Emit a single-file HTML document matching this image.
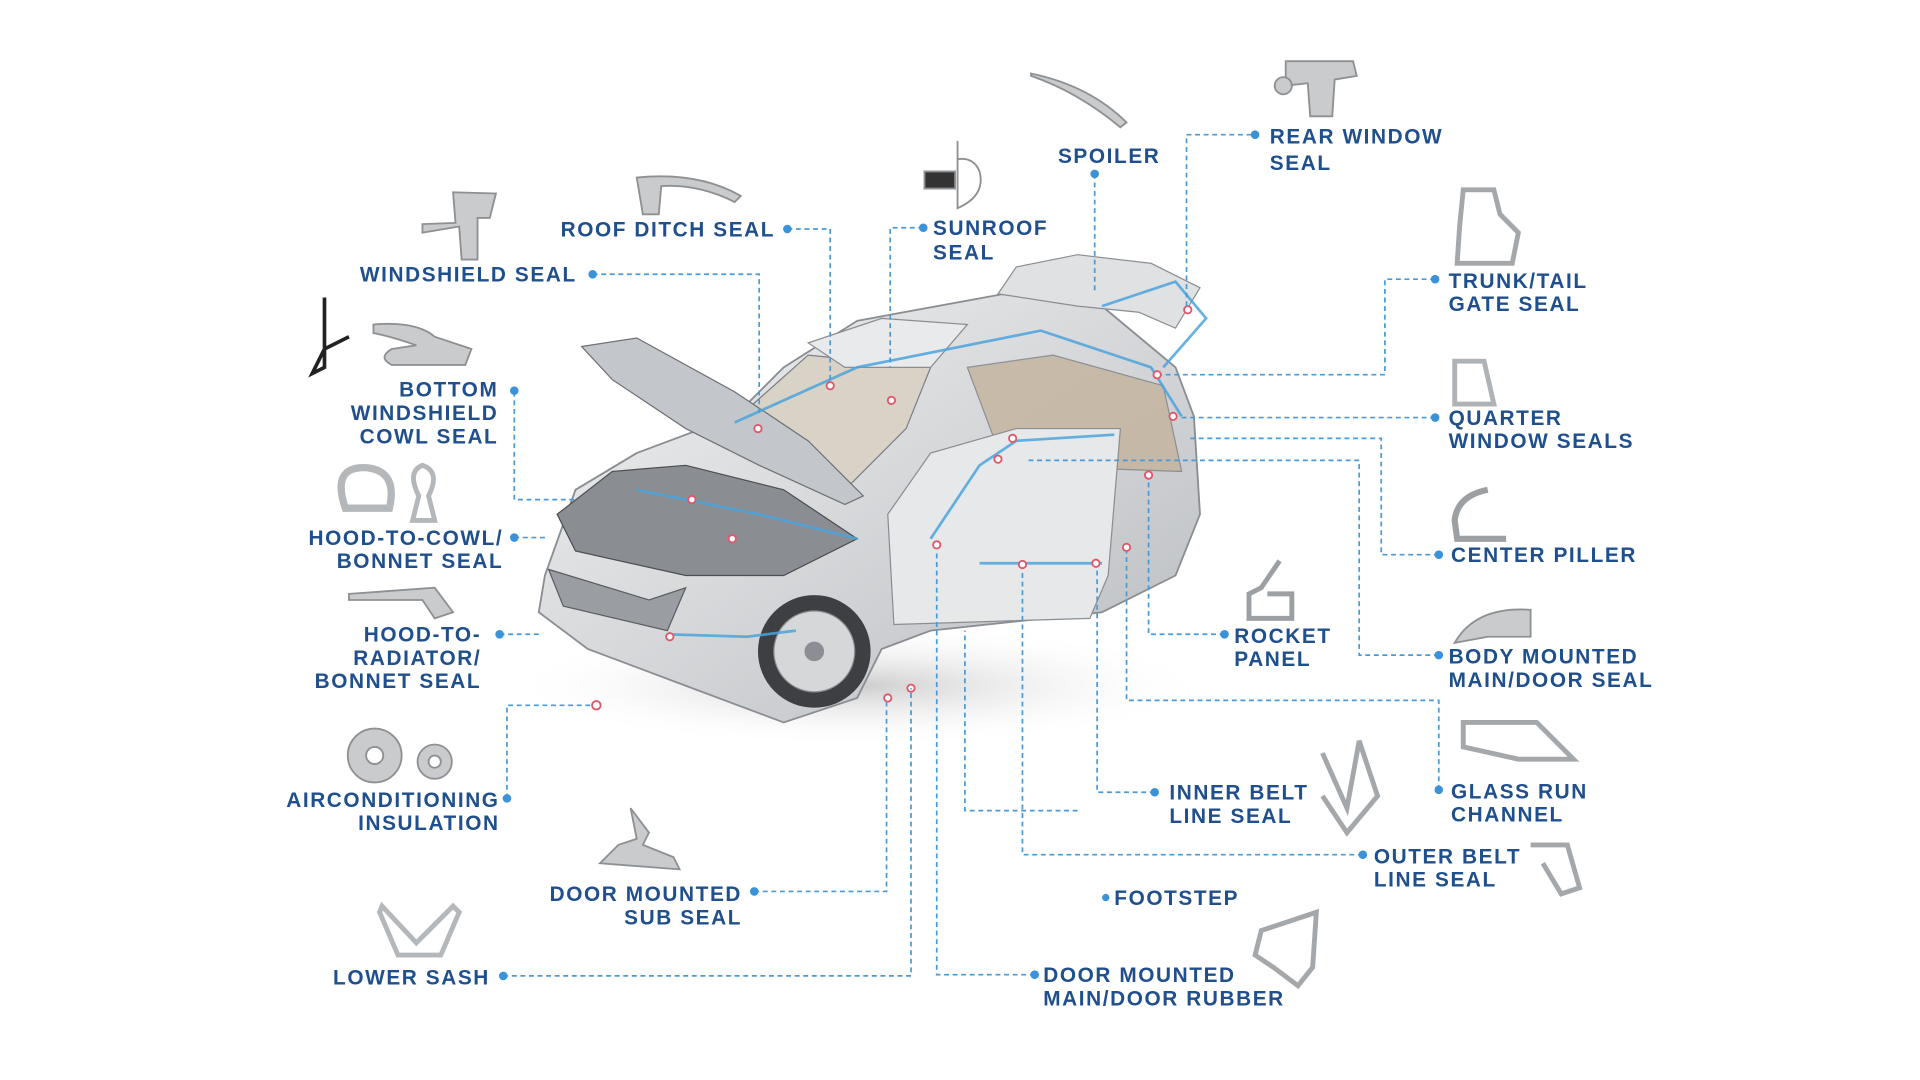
<!DOCTYPE html>
<html><head><meta charset="utf-8"><style>
html,body{margin:0;padding:0;background:#fff;width:1920px;height:1080px;overflow:hidden}
svg{display:block}
text{font-family:"Liberation Sans",sans-serif;font-weight:bold;font-size:17px;fill:#1f4f8c;letter-spacing:1.3px}
.c{stroke:#4a9ad6;stroke-width:1.4;fill:none;stroke-dasharray:4 3}
.d{fill:#3a93d8}
.ic{fill:#c9cbcd;stroke:#8e9194;stroke-width:1.5}
.bl{stroke:#4aa3dc;stroke-width:2.2;fill:none;opacity:.85}
.pt{fill:#fff;stroke:#e0566a;stroke-width:1.5}
</style></head><body>
<svg width="1920" height="1080" viewBox="0 0 1568 882" preserveAspectRatio="none" xmlns="http://www.w3.org/2000/svg">
<rect width="1568" height="882" fill="#fff"/>
<defs>
<linearGradient id="g1" x1="0" y1="0" x2="1" y2="1"><stop offset="0" stop-color="#f1f2f3"/><stop offset="1" stop-color="#b9bcc0"/></linearGradient>
<radialGradient id="sh" cx="0.5" cy="0.5" r="0.5"><stop offset="0" stop-color="#9a9a9a" stop-opacity=".5"/><stop offset="1" stop-color="#fff" stop-opacity="0"/></radialGradient>
</defs>
<ellipse cx="700" cy="560" rx="290" ry="50" fill="url(#sh)"/>
<path d="M445 470 L470 400 L520 370 L600 340 L640 300 L700 262 L820 240 L900 250 L960 300 L975 340 L980 420 L960 470 L900 500 L760 515 L720 530 L700 570 L640 590 L560 560 L480 530 L440 500 Z" fill="url(#g1)" stroke="#8a8e93" stroke-width="1.5"/>
<path d="M815 240 L830 218 L880 208 L940 215 L980 235 L960 268 L930 255 L880 250 Z" fill="#dfe1e3" stroke="#8a8e93"/>
<path d="M615 330 L660 290 L760 300 L740 350 L690 400 L640 370 Z" fill="#d9d2c7" stroke="#7b7f84"/>
<path d="M790 300 L860 290 L950 315 L965 385 L820 380 Z" fill="#c4b39c" stroke="#7b7f84" opacity=".8"/>
<path d="M660 280 L720 260 L790 265 L760 300 L690 300 Z" fill="#e8eaec" stroke="#8a8e93"/>
<path d="M475 283 L520 276 L600 320 L660 360 L705 405 L690 412 L620 380 L560 350 L500 310 Z" fill="#c3c6ca" stroke="#6e7277"/>
<path d="M455 420 L500 385 L560 380 L640 400 L700 440 L640 470 L560 470 L470 450 Z" fill="#8a8d92" stroke="#4b4e52"/>
<path d="M725 420 L760 370 L830 350 L915 350 L905 470 L890 505 L730 510 Z" fill="#e6e8ea" stroke="#8a8e93"/>
<path d="M448 465 L530 490 L560 480 L545 515 L460 495 Z" fill="#9a9ea3" stroke="#5a5d61"/>
<circle cx="665" cy="532" r="46" fill="#3d3f42"/>
<circle cx="665" cy="532" r="33" fill="#d5d7d9" stroke="#8b8e92"/>
<circle cx="665" cy="532" r="8" fill="#8b8e92"/>
<path class="bl" d="M600 345 L700 300 L850 270 L940 300 L965 340"/>
<path class="bl" d="M520 400 L620 420 L700 440"/>
<path class="bl" d="M545 518 L610 520 L650 515"/>
<path class="bl" d="M760 440 L800 380 L830 360 L910 355"/>
<path class="bl" d="M800 460 L900 460"/>
<path class="bl" d="M900 250 L960 230 L985 260 L950 300"/>
<circle class="pt" cx="678" cy="315" r="3"/><circle class="pt" cx="728" cy="327" r="3"/><circle class="pt" cx="619" cy="350" r="3"/>
<circle class="pt" cx="565" cy="408" r="3"/><circle class="pt" cx="598" cy="440" r="3"/><circle class="pt" cx="547" cy="520" r="3"/>
<circle class="pt" cx="970" cy="253" r="3"/><circle class="pt" cx="945" cy="306" r="3"/><circle class="pt" cx="958" cy="340" r="3"/>
<circle class="pt" cx="827" cy="358" r="3"/><circle class="pt" cx="815" cy="375" r="3"/><circle class="pt" cx="938" cy="388" r="3"/>
<circle class="pt" cx="765" cy="445" r="3"/><circle class="pt" cx="835" cy="461" r="3"/><circle class="pt" cx="895" cy="460" r="3"/><circle class="pt" cx="920" cy="447" r="3"/>
<circle class="pt" cx="487" cy="576" r="3.5"/><circle class="pt" cx="725" cy="570" r="3"/><circle class="pt" cx="744" cy="562" r="3"/>

<g class="c">
<path d="M969 250 V110 H1025"/>
<path d="M894 142 V240"/>
<path d="M754 186 H727 V300"/>
<path d="M643 187 H678 V310"/>
<path d="M484 224 H620 V340"/>
<path d="M420 320 V408 H470"/>
<path d="M420 439 H448"/>
<path d="M408 518 H440"/>
<path d="M414 652 V576 H485"/>
<path d="M616 728 H724 V570"/>
<path d="M411 797 H744 V562"/>
<path d="M1172 228 H1131 V306 H948"/>
<path d="M1172 341 H962"/>
<path d="M1175 453 H1128 V358 H970"/>
<path d="M1000 518 H938 V392"/>
<path d="M1175 535 H1110 V376 H840"/>
<path d="M1175 645 V572 H920 V450"/>
<path d="M943 647 H896 V465"/>
<path d="M1113 698 H835 V465"/>
<path d="M845 796 H765 V450"/>
<path d="M880 662 H788 V515"/>
</g>
<g class="d">
<circle cx="1025" cy="110" r="3.5"/><circle cx="894" cy="142" r="3.5"/><circle cx="754" cy="186" r="3.5"/><circle cx="643" cy="187" r="3.5"/>
<circle cx="484" cy="224" r="3.5"/><circle cx="420" cy="319" r="3.5"/><circle cx="420" cy="439" r="3.5"/><circle cx="408" cy="518" r="3.5"/>
<circle cx="414" cy="652" r="3.5"/><circle cx="616" cy="728" r="3.5"/><circle cx="411" cy="797" r="3.5"/><circle cx="1172" cy="228" r="3.5"/>
<circle cx="1172" cy="341" r="3.5"/><circle cx="1175" cy="453" r="3.5"/><circle cx="1000" cy="518" r="3.5"/><circle cx="1175" cy="535" r="3.5"/>
<circle cx="1175" cy="645" r="3.5"/><circle cx="943" cy="647" r="3.5"/><circle cx="1113" cy="698" r="3.5"/><circle cx="845" cy="796" r="3.5"/>
<circle cx="903" cy="733" r="3"/>
</g>

<g class="ic">
<path d="M842 60 Q890 70 920 100 L915 104 Q880 75 842 62 Z"/>
<path d="M1050 50 L1105 50 L1108 62 L1090 65 L1088 95 L1070 95 L1068 68 L1050 70 Z"/><circle cx="1048" cy="70" r="7"/>
<path d="M520 145 Q570 140 605 160 L600 165 Q570 150 540 152 L538 175 L525 175 Z"/>
<path d="M782 115 L782 170 Q805 160 800 140 Q795 128 782 130" fill="none"/><path d="M755 140 L780 140 L780 154 L755 154 Z" fill="#333"/>
<path d="M370 157 L405 158 L400 178 L390 178 L390 212 L377 212 L375 185 L345 190 L345 183 L372 182 Z"/>
<path d="M265 243 L265 300 L255 305 L265 285 L285 275" fill="none" stroke="#222" stroke-width="3"/>
<path d="M305 265 Q340 262 355 275 L385 285 L380 298 L320 298 Q308 292 320 285 L340 282 Q320 275 305 272 Z"/>
<path d="M282 415 Q270 380 300 382 Q325 385 318 415 Z" fill="none" stroke-width="6" stroke="#b5b8bb"/>
<path d="M345 380 Q360 385 350 405 L355 425 L337 425 L342 405 Q332 385 345 380 Z" fill="none" stroke-width="4" stroke="#b5b8bb"/>
<path d="M285 485 L355 480 L370 500 L355 505 L345 490 L285 490 Z"/>
<circle cx="306" cy="617" r="22"/><circle cx="306" cy="617" r="7" fill="#fff"/><circle cx="355" cy="622" r="14"/><circle cx="355" cy="622" r="5" fill="#fff"/>
<path d="M515 660 L530 680 L525 690 L550 700 L555 710 L490 705 L505 690 L520 685 Z"/>
<path d="M312 740 L340 770 L370 740 L375 745 L360 780 L325 780 L310 745 Z" fill="none" stroke-width="4" stroke="#b5b8bb"/>
<path d="M1195 155 L1220 155 L1225 175 L1240 190 L1235 215 L1190 215 L1192 185 Z" fill="none" stroke-width="4" stroke="#a5a8ab"/>
<path d="M1188 295 L1212 295 L1220 330 L1188 330 Z" fill="none" stroke-width="4" stroke="#b0b3b6"/>
<path d="M1215 400 Q1190 405 1188 425 L1190 440 L1230 440" fill="none" stroke-width="5" stroke="#9da0a3"/>
<path d="M1045 458 L1030 480 L1020 485 L1020 505 L1055 505 L1055 485 L1035 485" fill="none" stroke-width="4" stroke="#9da0a3"/>
<path d="M1188 525 Q1205 495 1250 498 L1250 520 L1215 520 Z"/>
<path d="M1195 590 L1255 590 L1285 620 L1240 620 L1195 610 Z" fill="none" stroke-width="4" stroke="#a5a8ab"/>
<path d="M1080 615 L1100 660 L1110 605 L1125 650 L1100 680 L1080 650" fill="none" stroke-width="4" stroke="#a5a8ab"/>
<path d="M1250 690 L1280 690 L1290 725 L1275 730 L1260 705" fill="none" stroke-width="4" stroke="#a5a8ab"/>
<path d="M1030 760 L1075 745 L1072 790 L1060 805 L1040 790 L1025 780 Z" fill="none" stroke-width="4" stroke="#a5a8ab"/>
</g>

<text x="864" y="133">SPOILER</text>
<text x="1037" y="117">REAR WINDOW</text><text x="1037" y="139">SEAL</text>
<text x="762" y="192">SUNROOF</text><text x="762" y="212">SEAL</text>
<text x="633" y="193" text-anchor="end">ROOF DITCH SEAL</text>
<text x="471" y="230" text-anchor="end">WINDSHIELD SEAL</text>
<text x="407" y="324" text-anchor="end">BOTTOM</text><text x="407" y="343" text-anchor="end">WINDSHIELD</text><text x="407" y="362" text-anchor="end">COWL SEAL</text>
<text x="411" y="445" text-anchor="end">HOOD-TO-COWL/</text><text x="411" y="464" text-anchor="end">BONNET SEAL</text>
<text x="393" y="524" text-anchor="end">HOOD-TO-</text><text x="393" y="543" text-anchor="end">RADIATOR/</text><text x="393" y="562" text-anchor="end">BONNET SEAL</text>
<text x="408" y="659" text-anchor="end">AIRCONDITIONING</text><text x="408" y="678" text-anchor="end">INSULATION</text>
<text x="606" y="736" text-anchor="end">DOOR MOUNTED</text><text x="606" y="755" text-anchor="end">SUB SEAL</text>
<text x="272" y="804">LOWER SASH</text>
<text x="1183" y="235">TRUNK/TAIL</text><text x="1183" y="254">GATE SEAL</text>
<text x="1183" y="347">QUARTER</text><text x="1183" y="366">WINDOW SEALS</text>
<text x="1185" y="459">CENTER PILLER</text>
<text x="1008" y="525">ROCKET</text><text x="1008" y="544">PANEL</text>
<text x="1183" y="542">BODY MOUNTED</text><text x="1183" y="561">MAIN/DOOR SEAL</text>
<text x="1185" y="652">GLASS RUN</text><text x="1185" y="671">CHANNEL</text>
<text x="955" y="653">INNER BELT</text><text x="955" y="672">LINE SEAL</text>
<text x="1122" y="705">OUTER BELT</text><text x="1122" y="724">LINE SEAL</text>
<text x="910" y="739">FOOTSTEP</text>
<text x="852" y="802">DOOR MOUNTED</text><text x="852" y="821">MAIN/DOOR RUBBER</text>
</svg>
</body></html>
